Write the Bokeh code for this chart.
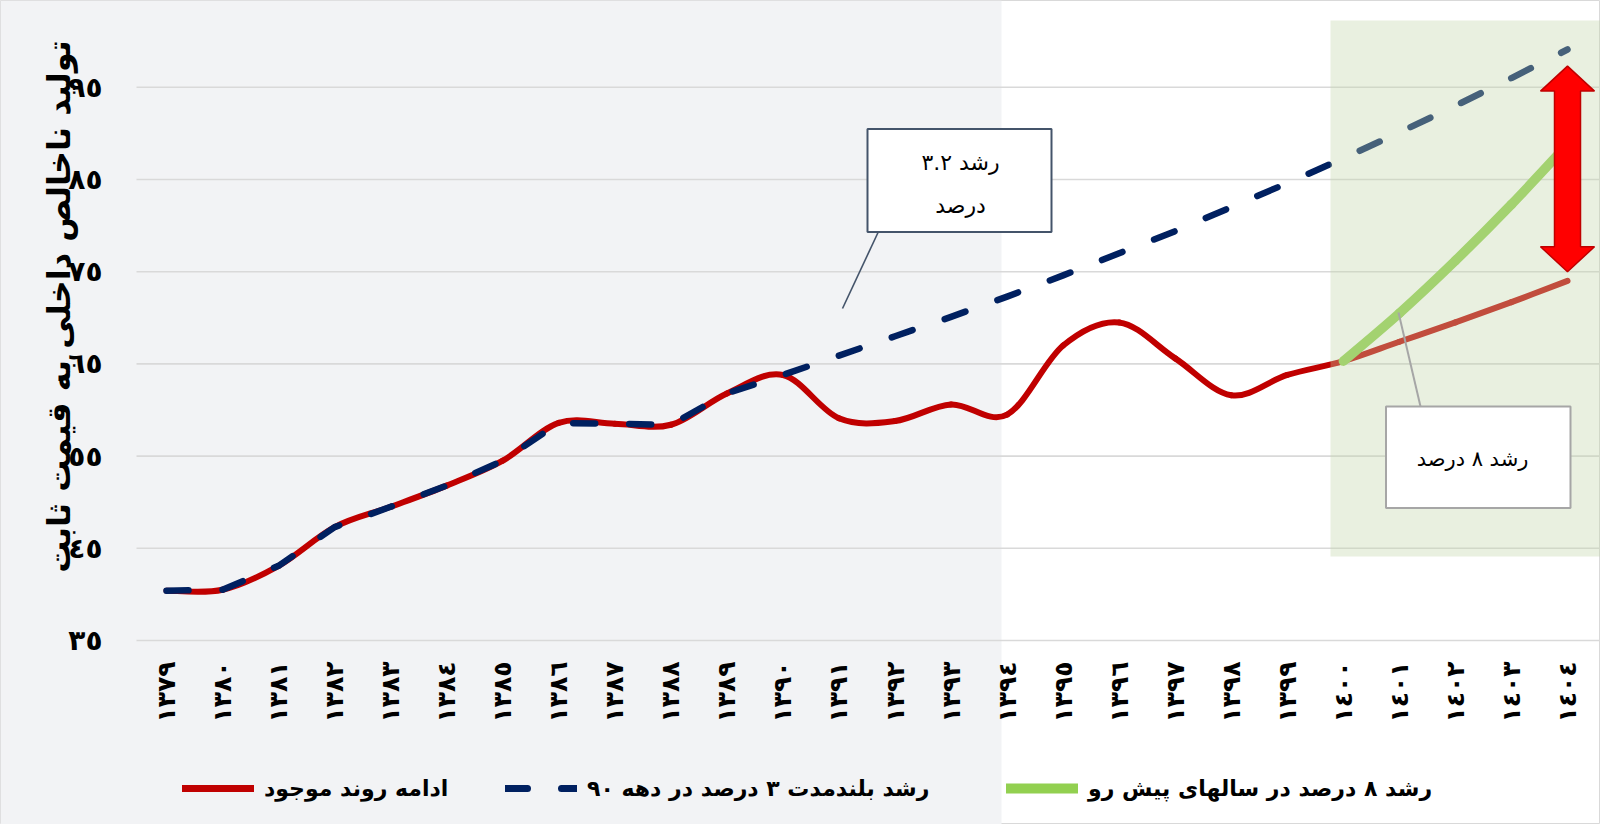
import math
from bokeh.plotting import figure
from bokeh.models import (Range1d, FixedTicker, BoxAnnotation, Legend, LegendItem,
                          LinearAxis)
from bokeh.core.properties import value
from bokeh.embed import file_html
from bokeh.resources import INLINE

# ---------------- data ----------------
years = [1379, 1380, 1381, 1382, 1383, 1384, 1385, 1386, 1387, 1388, 1389, 1390, 1391,
         1392, 1393, 1394, 1395, 1396, 1397, 1398, 1399, 1400, 1401, 1402, 1403, 1404]
year_labels = ["١٣٧٩", "١٣٨٠", "١٣٨١", "١٣٨٢", "١٣٨٣", "١٣٨٤", "١٣٨٥", "١٣٨٦", "١٣٨٧",
               "١٣٨٨", "١٣٨٩", "١٣٩٠", "١٣٩١", "١٣٩٢", "١٣٩٣", "١٣٩٤", "١٣٩٥", "١٣٩٦",
               "١٣٩٧", "١٣٩٨", "١٣٩٩", "١٤٠٠", "١٤٠١", "١٤٠٢", "١٤٠٣", "١٤٠٤"]

# ادامه روند موجود
trend_values = [40.4, 40.5, 43.1, 47.3, 49.5, 51.8, 54.5, 58.6, 58.5, 58.4, 61.8, 63.8, 59.1,
                58.8, 60.6, 59.5, 67.0, 69.5, 65.6, 61.6, 63.8, 65.3, 67.4, 69.5, 71.7, 74.0]
# رشد بلندمدت ۳ درصد در دهه ۹۰
longrun_values = [40.4, 40.5, 43.1, 47.3, 49.5, 51.8, 54.5, 58.6, 58.5, 58.4, 61.8, 63.8, 65.9,
                  68.0, 70.1, 72.3, 74.6, 77.0, 79.4, 82.0, 84.6, 87.3, 90.1, 93.0, 96.0, 99.1]
# رشد ۸ درصد در سالهای پیش رو
growth8_years = [1400, 1401, 1402, 1403, 1404]
growth8_values = [65.3, 70.5, 76.2, 82.3, 88.8]

y_ticks = [35, 45, 55, 65, 75, 85, 95]
y_tick_labels = ["٣٥", "٤٥", "٥٥", "٦٥", "٧٥", "٨٥", "٩٥"]

y_title = "تولید ناخالص داخلی به قیمت ثابت"
series_names = ["ادامه روند موجود", "رشد بلندمدت ۳ درصد در دهه ۹۰", "رشد ۸ درصد در سالهای پیش رو"]
note_32 = ["رشد ۳.۲", "درصد"]
note_8 = "رشد ۸ درصد"
arrow_year = 1404
arrow_top, arrow_bottom = 97.3, 75.0

# ---------------- geometry ----------------
W, H = 1600, 824
PX_YEAR = 56.04      # px per year
PX_UNIT = 9.22       # px per value unit
FIRST_X_PX = 166     # canvas px of first year
BASE_Y_PX = 640      # canvas px of value 35

X0 = years[0] - FIRST_X_PX / PX_YEAR
X1 = X0 + W / PX_YEAR
Y1 = 35 + BASE_Y_PX / PX_UNIT
Y0 = 35 - (H - BASE_Y_PX) / PX_UNIT


def px2x(px):  # canvas pixel -> data x
    return X0 + px / PX_YEAR


def px2y(py):  # canvas pixel -> data y
    return Y1 - py / PX_UNIT


FONT = "DejaVu Sans"
RED = "#C00000"
NAVY = "#002060"
GREEN = "#92D050"

p = figure(width=W, height=H, output_backend="svg", toolbar_location=None,
           x_range=Range1d(X0, X1), y_range=Range1d(Y0, Y1),
           min_border=0, min_border_left=0, min_border_right=0,
           min_border_top=0, min_border_bottom=0,
           background_fill_color="white", border_fill_color="white",
           outline_line_color="#D9D9D9")
p.grid.visible = False

# left gray chart area
p.add_layout(BoxAnnotation(left=X0, right=px2x(1001), bottom=Y0, top=Y1,
                           fill_color="#F2F3F5", fill_alpha=1.0, line_color=None,
                           level="underlay"))

# gridlines
p.segment(x0=[px2x(136)] * len(y_ticks), x1=[X1] * len(y_ticks), y0=y_ticks, y1=y_ticks,
          line_color="#D9D9D9", line_width=1.6)

# axes
xa = p.xaxis[0]
xa.fixed_location = 35
xa.ticker = FixedTicker(ticks=years)
xa.major_label_overrides = {yr: lb for yr, lb in zip(years, year_labels)}
xa.major_label_orientation = math.pi / 2
xa.axis_line_color = None
xa.major_tick_line_color = None
xa.minor_tick_line_color = None
xa.major_label_standoff = 15
xa.major_label_text_font = FONT
xa.major_label_text_font_style = "bold"
xa.major_label_text_font_size = "25px"
xa.major_label_text_color = "black"

ya = p.yaxis[0]
ya.fixed_location = px2x(136)
ya.bounds = (35, Y1)
ya.ticker = FixedTicker(ticks=y_ticks)
ya.major_label_overrides = {t: lb for t, lb in zip(y_ticks, y_tick_labels)}
ya.axis_line_color = None
ya.major_tick_line_color = None
ya.minor_tick_line_color = None
ya.major_label_standoff = 28
ya.major_label_text_font = FONT
ya.major_label_text_font_style = "bold"
ya.major_label_text_font_size = "28px"
ya.major_label_text_color = "black"

# axis title carried by a label-less companion axis so it can be centred like the reference
ya_title = LinearAxis(fixed_location=px2x(136), bounds=(38.05, Y1),
                      ticker=FixedTicker(ticks=[]), axis_label=y_title,
                      axis_line_color=None, major_tick_line_color=None,
                      minor_tick_line_color=None, major_tick_out=0, minor_tick_out=0,
                      major_label_standoff=0, axis_label_standoff=59,
                      axis_label_text_font=FONT, axis_label_text_font_style="bold",
                      axis_label_text_font_size="32px", axis_label_text_color="black")
p.add_layout(ya_title, "left")


def smooth(xs, ys, t=1 / 6):
    d = dict(x0=[], y0=[], x1=[], y1=[], cx0=[], cy0=[], cx1=[], cy1=[])
    n = len(xs)
    for i in range(n - 1):
        a = i - 1 if i > 0 else i
        b = i + 2 if i + 2 < n else i + 1
        d["x0"].append(xs[i]); d["y0"].append(ys[i])
        d["x1"].append(xs[i + 1]); d["y1"].append(ys[i + 1])
        d["cx0"].append(xs[i] + (xs[i + 1] - xs[a]) * t)
        d["cy0"].append(ys[i] + (ys[i + 1] - ys[a]) * t)
        d["cx1"].append(xs[i + 1] - (xs[b] - xs[i]) * t)
        d["cy1"].append(ys[i + 1] - (ys[b] - ys[i]) * t)
    return d


# series
p.bezier(source=smooth(years, trend_values), x0="x0", y0="y0", x1="x1", y1="y1",
         cx0="cx0", cy0="cy0", cx1="cx1", cy1="cy1",
         line_color=RED, line_width=6, line_cap="round")
p.line(years, longrun_values, line_color=NAVY, line_width=6.5, line_dash="22 34",
       line_cap="round", line_join="round")
p.bezier(source=smooth(growth8_years, growth8_values), x0="x0", y0="y0", x1="x1", y1="y1",
         cx0="cx0", cy0="cy0", cx1="cx1", cy1="cy1",
         line_color=GREEN, line_width=9.5, line_cap="round")

# note box 3.2%
p.segment(x0=[px2x(878)], y0=[px2y(231)], x1=[px2x(842)], y1=[px2y(308)],
          line_color="#44546A", line_width=1.6)
p.quad(left=[px2x(867)], right=[px2x(1051)], top=[px2y(128.5)], bottom=[px2y(231.5)],
       fill_color="white", line_color="#44546A", line_width=2)
p.text(x=[px2x(960), px2x(960)], y=[px2y(162), px2y(205)], text=note_32,
       text_font=value(FONT), text_font_size="22px", text_color="black",
       text_align="center", text_baseline="middle")

# green forecast zone (translucent overlay)
p.add_layout(BoxAnnotation(left=px2x(1330), right=X1, top=px2y(20), bottom=px2y(556),
                           fill_color="#C2D6A8", fill_alpha=0.36, line_color=None,
                           level="annotation"))

# double arrow
hw, sw, hl = 27 / PX_YEAR, 13 / PX_YEAR, 25 / PX_UNIT
ax = arrow_year
arr_x = [ax, ax + hw, ax + sw, ax + sw, ax + hw, ax, ax - hw, ax - sw, ax - sw, ax - hw]
arr_y = [arrow_top, arrow_top - hl, arrow_top - hl, arrow_bottom + hl, arrow_bottom + hl,
         arrow_bottom, arrow_bottom + hl, arrow_bottom + hl, arrow_top - hl, arrow_top - hl]
p.patch(arr_x, arr_y, fill_color="#FF0000", line_color="#C00000", line_width=1.5,
        level="overlay")

# note box 8%
p.segment(x0=[px2x(1420)], y0=[px2y(406)], x1=[px2x(1398)], y1=[px2y(312)],
          line_color="#A6A6A6", line_width=2, level="overlay")
p.quad(left=[px2x(1385.5)], right=[px2x(1570)], top=[px2y(406)], bottom=[px2y(507.5)],
       fill_color="white", line_color="#A6A6A6", line_width=2, level="overlay")
p.text(x=[px2x(1472)], y=[px2y(458)], text=[note_8],
       text_font=value(FONT), text_font_size="21px", text_color="black",
       text_align="center", text_baseline="middle", level="overlay")

# legend glyph renderers (kept outside the visible range)
off_x = [X0 - 10, X0 - 9]
off_y = [Y0 - 10, Y0 - 10]
leg_red = p.line(off_x, off_y, line_color=RED, line_width=7, line_cap="round")
leg_navy = p.line(off_x, off_y, line_color=NAVY, line_width=7, line_dash="22 34",
                  line_cap="round")
leg_green = p.line(off_x, off_y, line_color=GREEN, line_width=10, line_cap="round")

for rend, name, lx in [(leg_red, series_names[0], 182),
                       (leg_navy, series_names[1], 505),
                       (leg_green, series_names[2], 1006)]:
    lg = Legend(items=[LegendItem(label=name, renderers=[rend])], location=(lx, 23),
                orientation="horizontal", glyph_width=72, glyph_height=26, label_height=26,
                label_standoff=10, padding=0, margin=0, spacing=0,
                border_line_color=None, background_fill_alpha=0,
                label_text_font=FONT, label_text_font_style="bold",
                label_text_font_size="22px", label_text_color="black")
    p.add_layout(lg)

open("out.html", "w").write(file_html(p, INLINE))
